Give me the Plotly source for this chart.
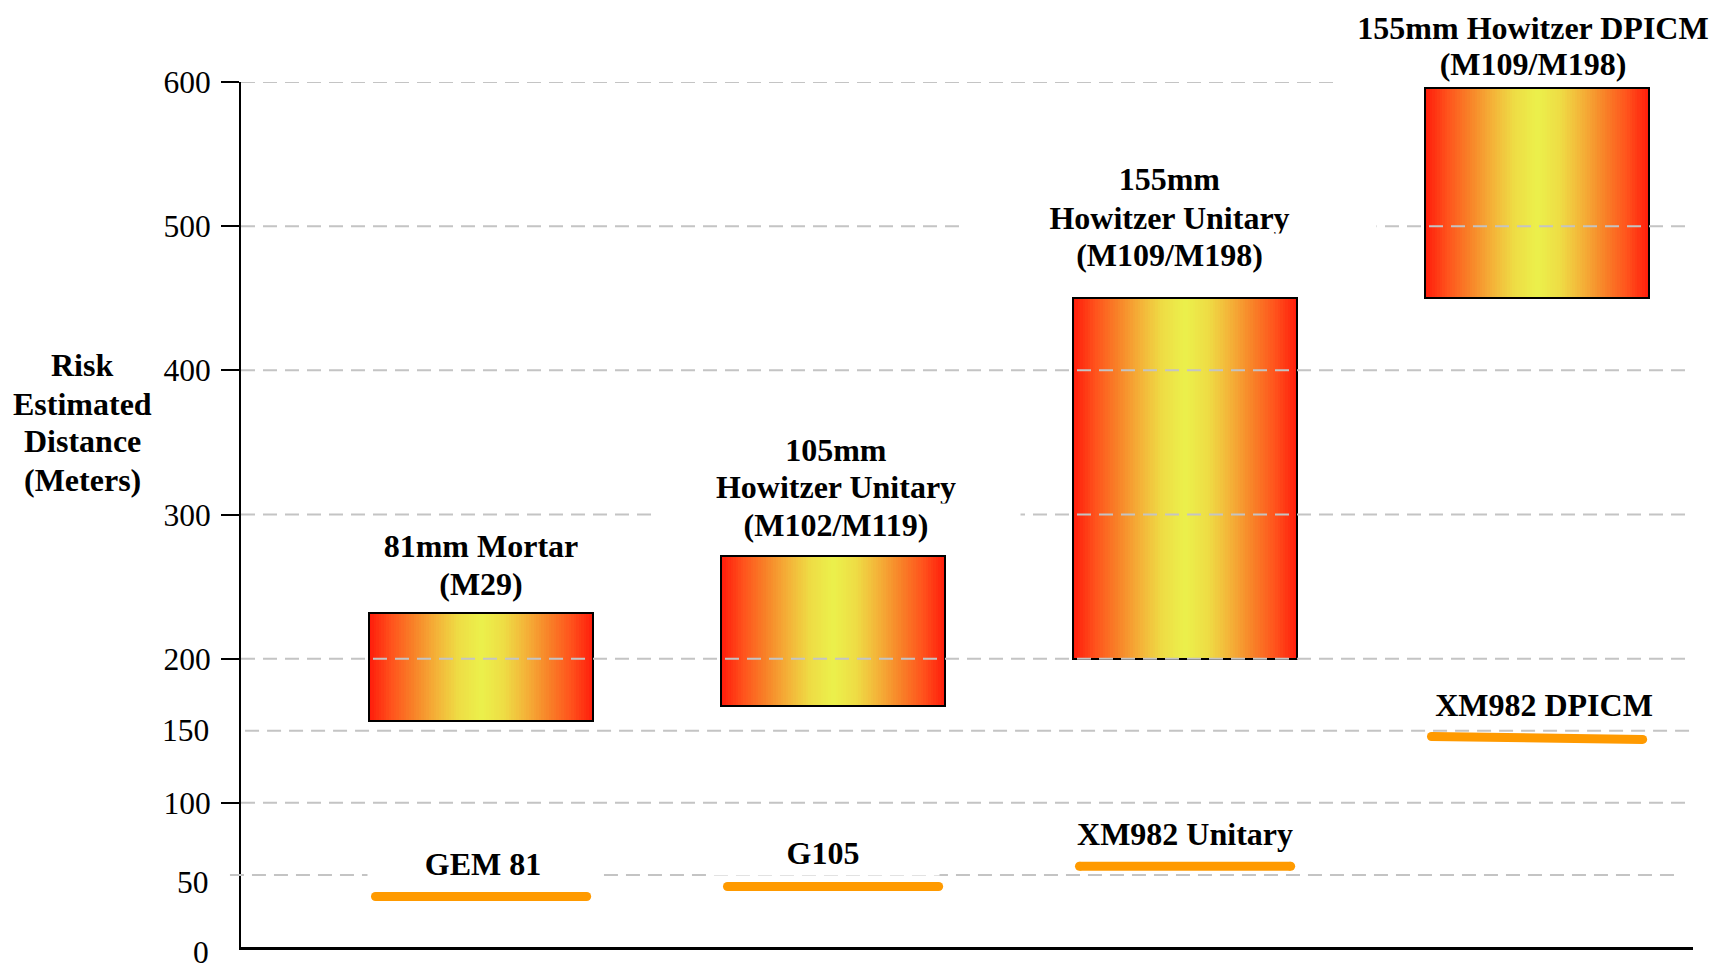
import numpy as np
import plotly.graph_objects as go

# ---------------- data ----------------
categories = ["81mm Mortar (M29)", "105mm Howitzer Unitary (M102/M119)",
              "155mm Howitzer Unitary (M109/M198)", "155mm Howitzer DPICM (M109/M198)"]
category_label_lines = [["81mm Mortar", "(M29)"],
                        ["105mm", "Howitzer Unitary", "(M102/M119)"],
                        ["155mm", "Howitzer Unitary", "(M109/M198)"],
                        ["155mm Howitzer DPICM", "(M109/M198)"]]
range_low = [157, 167, 200, 450]
range_high = [232, 271, 450, 596]

new_rounds = ["GEM 81", "G105", "XM982 Unitary", "XM982 DPICM"]
new_round_start = [35, 42, 56, 146]
new_round_end = [35, 42, 56, 144]

axis_ticks = [100, 200, 300, 400, 500, 600]
extra_tick_labels = ["0", "50", "150"]
grid_values = [50, 100, 150, 200, 300, 400, 500, 600]
y_title_lines = ["Risk", "Estimated", "Distance", "(Meters)"]

# ---------------- style / layout constants ----------------
FONT = "Liberation Serif"
LABEL_SIZE = 32
TICK_SIZE = 31.5
BAR_W = 0.638
LINE_HALF = 0.30
ORANGE = "#FF9A00"
GRID = "#C4C4C4"
colorscale = [[0.0, "#FF1A0A"], [0.2, "#FF521C"], [0.4, "#F88228"],
              [0.6, "#F4B238"], [0.8, "#EEDD45"], [1.0, "#EBF04B"]]

PLOT_TOP_PX, PLOT_BOTTOM_PX = 82, 947


def paper_y(px):
    return (PLOT_BOTTOM_PX - px) / (PLOT_BOTTOM_PX - PLOT_TOP_PX)


fig = go.Figure()

xpos = list(range(len(categories)))
N = 90
for i, (lo, hi) in enumerate(zip(range_low, range_high)):
    edges = np.linspace(i - BAR_W / 2, i + BAR_W / 2, N + 1)
    centers = (edges[:-1] + edges[1:]) / 2
    t = (centers - i) / (BAR_W / 2)
    fig.add_trace(go.Heatmap(x=edges, y=[lo, hi], z=[1 - np.abs(t)],
                             colorscale=colorscale, zmin=0, zmax=1,
                             showscale=False, hoverinfo="skip"))

fig.add_trace(go.Bar(x=xpos, y=[h - l for l, h in zip(range_low, range_high)],
                     base=range_low, width=BAR_W, name="Risk Estimated Distance",
                     marker=dict(color="rgba(0,0,0,0)", line=dict(color="black", width=2)),
                     showlegend=False))

for i, (name, s, e) in enumerate(zip(new_rounds, new_round_start, new_round_end)):
    fig.add_trace(go.Scatter(x=[i - LINE_HALF, i + LINE_HALF], y=[s, e], mode="lines+markers",
                             line=dict(color=ORANGE, width=9),
                             marker=dict(color=ORANGE, size=9, line=dict(width=0)),
                             name=name, showlegend=False))

# dashed grid lines drawn above the bars (paper extents)
extents = {50: (-0.0076, 0.988), 150: (0.0028, 1.0014)}
for v in grid_values:
    x0, x1 = extents.get(v, (0.0, 0.9959))
    fig.add_shape(type="line", xref="paper", yref="y", x0=x0, x1=x1, y0=v, y1=v,
                  line=dict(color=GRID, width=2, dash="14px,8px"), layer="above")

bold = dict(family=FONT, size=LABEL_SIZE, color="black", weight="bold")
annos = []
# category labels: one annotation per line (x in category units, line centres in px)
label_layout = [(0.0, [545.6, 584.1], 300, 3),
                (1.009, [449.9, 487.3, 524.7], 362, 3),
                (1.957, [179.3, 217.8, 255.2], 407, 3),
                (2.989, [28.0, 64.5], 392, 1)]
for lines, (x, ys, w, pad) in zip(category_label_lines, label_layout):
    for txt, py in zip(lines, ys):
        annos.append(dict(x=x, y=paper_y(py), xref="x", yref="paper", text=txt,
                          showarrow=False, font=bold, bgcolor="white", width=w,
                          borderpad=pad, xanchor="center", yanchor="middle"))
# new round labels
round_pos = [(0.006, 57.9, 222), (0.97, 65.5, 224), (2.0, 78.4, 260), (3.02, 167.9, 240)]
for txt, (x, y, w) in zip(new_rounds, round_pos):
    annos.append(dict(x=x, y=y, xref="x", yref="y", text=txt, showarrow=False,
                      font=bold, bgcolor="white", width=w, borderpad=4,
                      xanchor="center", yanchor="middle"))
# y title, one line each
for txt, py in zip(y_title_lines, [365.2, 403.7, 441.1, 479.6]):
    annos.append(dict(x=-0.1092, y=paper_y(py), xref="paper", yref="paper",
                      text=txt, showarrow=False, font=bold,
                      xanchor="center", yanchor="middle"))
# extra tick labels
for txt, py in zip(extra_tick_labels, [952, 882.5, 730.7]):
    annos.append(dict(x=-0.0207, y=paper_y(py), xref="paper", yref="paper", text=txt,
                      showarrow=False, font=dict(family=FONT, size=TICK_SIZE, color="black"),
                      xanchor="right", yanchor="middle"))

fig.update_layout(
    width=1717, height=962,
    margin=dict(l=233, r=32, t=74, b=23),
    plot_bgcolor="white", paper_bgcolor="white",
    showlegend=False, bargap=0, annotations=annos,
    xaxis=dict(range=[-0.682, 3.443], showline=True, linecolor="black", linewidth=2.5,
               showticklabels=False, showgrid=False, zeroline=False, ticks=""),
    yaxis=dict(range=[0, 600], tickvals=axis_ticks, ticks="outside", ticklen=18,
               tickwidth=2, tickcolor="black", showline=True, linewidth=2, linecolor="black",
               showgrid=False, zeroline=False, ticklabelstandoff=4,
               tickfont=dict(family=FONT, size=TICK_SIZE, color="black")),
)

fig.write_html("out.html")
